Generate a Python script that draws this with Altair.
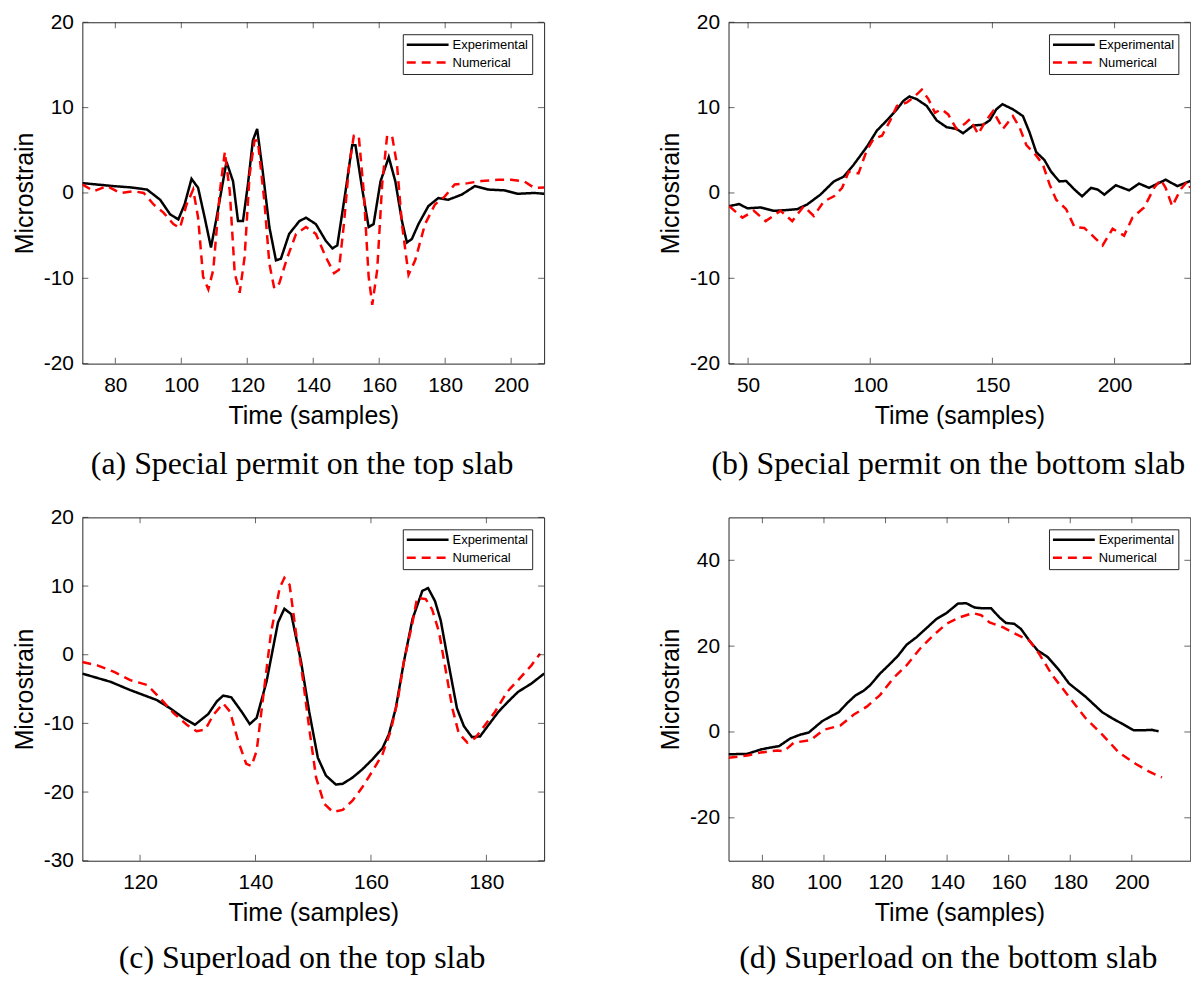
import altair as alt
import pandas as pd

SERIES = ["Experimental", "Numerical"]

# ---------- (a) Special permit on the top slab ----------
a_exp_t = [70, 79.5, 84.6, 89.6, 93.6, 96.6, 99.1, 101, 103.1, 105.1, 107.1, 109, 110.7, 113.7, 115.7,
           117.2, 118.7, 120.2, 121.7, 123, 124.7, 126.7, 128.7, 130.2, 132.7, 135.8, 137.8, 140.8,
           143.8, 145.8, 147.3, 149.8, 151.8, 152.8, 154.8, 156.8, 158.3, 160.4, 162.9, 164.9, 166.9,
           168.4, 169.9, 171.9, 174.9, 177.9, 180.9, 185, 189, 193, 198, 202, 207, 210]
a_exp_v = [1.15, 0.8, 0.65, 0.4, -0.8, -2.5, -3.1, -1.35, 1.65, 0.6, -2.9, -6.4, -2.9, 3.65, 1.35,
           -3.3, -3.3, 1.0, 6.15, 7.5, 2.5, -4.0, -7.9, -7.7, -4.8, -3.3, -2.9, -3.65,
           -5.6, -6.5, -6.15, 0.2, 5.6, 5.6, 0.6, -4.0, -3.65, 1.35, 4.2, 1.35, -3.3,
           -5.8, -5.4, -3.65, -1.55, -0.6, -0.8, -0.2, 0.8, 0.4, 0.3, -0.1, 0.0, -0.1]
a_num_t = [70, 73.5, 77.5, 81.5, 85.6, 88.6, 91.6, 94.6, 97.6, 99.6, 101.6, 103.6, 105.1, 106.6, 108.2,
           109.7, 111.7, 113.2, 114.7, 116.2, 117.7, 119.2, 120.7, 122.2, 123.2, 125.2, 126.7, 128.2,
           129.7, 132.2, 134.8, 137.8, 140.8, 143.8, 146.3, 147.8, 149.3, 150.8, 152.3, 153.8, 155.3,
           156.8, 157.9, 159.4, 160.9, 162.4, 163.9, 165.4, 166.9, 168.9, 170.9, 173.9, 176.9, 179.9,
           182.9, 187, 191, 196, 200, 204, 207, 210]
a_num_v = [1.0, 0.2, 0.8, 0.0, 0.2, 0.0, -1.35, -2.3, -3.65, -4.1, -1.35, 0.4, -2.9, -9.8, -11.3,
           -9.0, 0.2, 4.8, 0.2, -9.4, -11.7, -7.5, 2.1, 6.15, 6.15, -1.0, -8.3, -11.2,
           -10.6, -7.5, -4.8, -4.0, -4.8, -7.5, -9.4, -9.0, -3.65, 2.9, 6.7, 6.7, 0.2,
           -9.8, -13.1, -9.0, 1.0, 6.7, 6.7, 3.3, -3.65, -9.6, -7.9, -3.65, -1.35, -0.4,
           1.0, 1.15, 1.4, 1.55, 1.55, 1.35, 0.6, 0.65]

# ---------- (b) Special permit on the bottom slab ----------
b_exp_t = [42.3, 46.3, 49.7, 55.2, 60.6, 66, 70.1, 74.2, 79.6, 85.1, 89.1, 93.2, 98.6, 102.7, 106.8,
           110.9, 113.6, 116, 119, 123.1, 127.2, 131.3, 135.3, 138, 142.1, 146.2, 148.9, 151.6,
           154.1, 158.4, 162.5, 165.2, 167.9, 171.3, 174, 177.4, 180.2, 183.6, 186.7, 190.4, 193.1,
           195.8, 200.5, 206, 210, 214.1, 220.9, 225.7, 231]
b_exp_v = [-1.55, -1.3, -1.8, -1.7, -2.1, -2.0, -1.9, -1.35, -0.2, 1.35, 1.9, 3.3, 5.4, 7.3, 8.5,
           9.8, 10.8, 11.3, 11.0, 10.2, 8.5, 7.7, 7.5, 7.0, 7.9, 8.0, 8.5, 9.8,
           10.4, 9.8, 9.0, 7.1, 4.8, 3.85, 2.5, 1.35, 1.4, 0.4, -0.4, 0.6, 0.4,
           -0.2, 0.9, 0.3, 1.1, 0.6, 1.55, 0.8, 1.4]
b_num_t = [42.3, 47.7, 52.4, 57.2, 63.3, 68.1, 72.8, 76.9, 81, 85.1, 88.5, 91.2, 95.2, 98.6, 101.4,
           104.8, 108.2, 110.9, 115, 117.7, 121.1, 123.8, 126.5, 129.2, 131.9, 135.3, 138.7, 140.8,
           144.2, 146.9, 150.3, 154.3, 158.4, 161.1, 163.9, 167.9, 170.7, 173.4, 176.1, 180.2, 183.6,
           187.6, 191.7, 195.1, 199.2, 203.9, 207.3, 212.1, 216.2, 218.9, 220.9, 223.6, 227, 229.8, 231]
b_num_v = [-1.55, -2.9, -2.1, -3.3, -2.1, -3.3, -1.55, -2.7, -1.0, -0.4, 0.6, 2.5, 2.3, 5.0, 6.35,
           6.7, 8.5, 10.2, 10.6, 11.2, 12.1, 11.0, 9.4, 9.8, 9.2, 7.5, 8.1, 8.65,
           6.9, 8.3, 9.6, 7.5, 9.0, 7.7, 5.6, 4.4, 3.3, 1.0, -0.8, -1.9, -4.0,
           -4.1, -5.2, -6.15, -4.2, -5.0, -2.9, -1.7, 0.6, 1.55, 0.6, -1.55, 0.4, 1.35, 0.6]

# ---------- (c) Superload on the top slab ----------
c_exp_t = [110, 114.9, 118.3, 122.9, 125.2, 127.5, 129.5, 131.8, 133.3, 134.4, 135.8, 137.6, 139,
           140.2, 141.9, 143.9, 145, 146.2, 147.9, 149.3, 150.8, 152.2, 153.9, 155.1, 156.8, 158.5,
           160.3, 162, 163.1, 164.3, 165.7, 167.2, 168.9, 169.9, 171.1, 172.1, 173.5, 174.9, 176.1,
           177.5, 178.9, 180.4, 182.1, 183.8, 185.5, 187.8, 190]
c_exp_v = [-2.75, -3.95, -5.15, -6.6, -7.8, -9.2, -10.2, -8.65, -6.8, -5.95, -6.2, -8.3, -10.1,
           -9.2, -3.95, 4.7, 6.7, 5.9, -1.05, -8.3, -15.0, -17.6, -18.9, -18.8, -17.9, -16.7,
           -15.2, -13.6, -11.6, -7.8, -1.05, 5.2, 9.3, 9.7, 7.8, 4.95, -1.55, -7.8, -10.4,
           -12.0, -11.9, -10.2, -8.3, -6.8, -5.4, -4.2, -2.75]
c_num_t = [110, 112.6, 115.5, 118.3, 121.2, 123.5, 125.8, 128.1, 129.8, 131.3, 132.7, 134.4, 135.6,
           137, 138.4, 139.3, 140.2, 141.3, 142.7, 144.2, 145, 145.9, 147, 148.2, 149.3, 150.5,
           151.9, 153.4, 155.1, 156.8, 158.5, 160.3, 162, 163.4, 164.6, 165.7, 167.2, 168, 169.5,
           170.6, 171.8, 172.9, 174.1, 175.2, 176.7, 178.1, 179.8, 181.5, 183.6, 185.5, 187.8, 189.3]
c_num_v = [-1.05, -1.55, -2.5, -3.7, -4.4, -6.35, -8.5, -10.2, -11.15, -10.9, -8.75, -7.1, -8.3,
           -12.6, -15.9, -16.2, -14.0, -6.35, 3.3, 9.75, 11.2, 10.2, 3.3, -3.5, -10.7, -17.9,
           -21.7, -22.9, -22.6, -21.25, -19.3, -16.9, -14.5, -11.15, -6.8, -1.05, 4.7, 8.3, 8.1,
           6.6, 3.3, -2.0, -7.8, -11.4, -12.8, -12.1, -10.2, -8.3, -5.4, -3.7, -1.55, 0.15]

# ---------- (d) Superload on the bottom slab ----------
d_exp_t = [69, 75.1, 79.4, 82.1, 85.4, 89.1, 92.4, 95.1, 99.4, 102.1, 104.8, 107.5, 110.2, 112.9,
           115, 118.2, 121.5, 124.1, 126.8, 130.1, 133.3, 136.5, 139.8, 143.5, 146.2, 148.9, 151.6,
           154.3, 157, 159.1, 161.8, 164, 166.7, 169.4, 172.6, 176.4, 179.6, 185, 190.4, 193.6,
           197.4, 200.6, 203.9, 206.5, 208.7]
d_exp_v = [-5.2, -5.1, -4.1, -3.7, -3.3, -1.5, -0.6, -0.1, 2.5, 3.6, 4.6, 6.7, 8.5, 9.6,
           10.9, 13.6, 15.9, 17.8, 20.3, 22.1, 24.2, 26.3, 27.7, 29.9, 30.0, 29.0, 28.8,
           28.8, 26.7, 25.4, 25.2, 24.0, 21.3, 19.0, 17.5, 14.4, 11.3, 8.2, 4.6, 3.2,
           1.7, 0.4, 0.4, 0.5, 0.15]
d_num_t = [69, 75.1, 79.4, 84.8, 87, 90.2, 95.6, 99.9, 105.3, 109.6, 113.9, 118.2, 122.5, 126.8,
           131.2, 135.5, 139.8, 144.1, 148.4, 151.1, 153.8, 158.1, 162.4, 166.7, 169.9, 174.2, 179.6,
           185, 190.4, 195.8, 201.2, 205.5, 209.8]
d_num_v = [-6.0, -5.5, -4.8, -4.3, -4.5, -2.5, -1.9, 0.5, 1.5, 4.0, 5.9, 8.6, 12.5, 15.5,
           19.4, 22.5, 25.2, 26.7, 27.7, 27.2, 25.5, 24.4, 22.8, 21.3, 18.2, 13.2, 8.2,
           3.2, -0.6, -4.8, -7.4, -9.2, -10.6]

# axis domains and tick values
a_xdom, a_ydom, a_xt, a_yt = [70, 210], [-20, 20], [80, 100, 120, 140, 160, 180, 200], [-20, -10, 0, 10, 20]
b_xdom, b_ydom, b_xt, b_yt = [42, 231], [-20, 20], [50, 100, 150, 200], [-20, -10, 0, 10, 20]
c_xdom, c_ydom, c_xt, c_yt = [110, 190], [-30, 20], [120, 140, 160, 180], [-30, -20, -10, 0, 10, 20]
d_xdom, d_ydom, d_xt, d_yt = [69, 219], [-30, 50], [80, 100, 120, 140, 160, 180, 200], [-20, 0, 20, 40]

captions = ["(a) Special permit on the top slab",
            "(b) Special permit on the bottom slab",
            "(c) Superload on the top slab",
            "(d) Superload on the bottom slab"]

SANS = "Liberation Sans"
SERIF = "Liberation Serif"
AX = "#262626"
W = 464


def panel(et, ev, nt, nv, xdom, ydom, xt, yt, caption, h, cap_offset):
    df = pd.DataFrame({
        "t": list(et) + list(nt),
        "v": list(ev) + list(nv),
        "series": [SERIES[0]] * len(et) + [SERIES[1]] * len(nt),
    })
    xaxis = alt.Axis(values=xt, title="Time (samples)", grid=False, domain=False, ticks=False,
                     tickSize=0, labelPadding=11, titlePadding=8, labelExpr="datum.value + ''")
    yaxis = alt.Axis(values=yt, title="Microstrain", grid=False, domain=False, ticks=False,
                     tickSize=0, labelPadding=9, titlePadding=5.7, labelExpr="datum.value + ''")
    xs = alt.Scale(domain=xdom, nice=False, zero=False)
    ys = alt.Scale(domain=ydom, nice=False, zero=False)

    def X():
        return alt.X("t:Q", scale=xs, axis=xaxis)

    def Y():
        return alt.Y("v:Q", scale=ys, axis=yaxis)

    lines = alt.Chart(df).mark_line(strokeWidth=2.5, clip=True).encode(
        x=X(), y=Y(),
        color=alt.Color("series:N", scale=alt.Scale(domain=SERIES, range=["#000000", "#ff0000"]),
                        legend=alt.Legend(title=None)),
        strokeDash=alt.StrokeDash("series:N", scale=alt.Scale(domain=SERIES, range=[[1, 0], [9, 6]]),
                                  legend=alt.Legend(title=None)),
    )

    left = pd.DataFrame({"t": [xdom[0]] * len(yt), "v": yt})
    right = pd.DataFrame({"t": [xdom[1]] * len(yt), "v": yt})
    bottom = pd.DataFrame({"t": xt, "v": [ydom[0]] * len(xt)})
    top = pd.DataFrame({"t": xt, "v": [ydom[1]] * len(xt)})
    tk = dict(color=AX, thickness=1, size=6)
    t1 = alt.Chart(left).mark_tick(orient="horizontal", xOffset=3, **tk).encode(x=X(), y=Y())
    t2 = alt.Chart(right).mark_tick(orient="horizontal", xOffset=-3, **tk).encode(x=X(), y=Y())
    t3 = alt.Chart(bottom).mark_tick(orient="vertical", yOffset=-3, **tk).encode(x=X(), y=Y())
    t4 = alt.Chart(top).mark_tick(orient="vertical", yOffset=3, **tk).encode(x=X(), y=Y())

    return alt.layer(lines, t1, t2, t3, t4).properties(
        width=W, height=h,
        title=alt.TitleParams(caption, orient="bottom", anchor="middle", font=SERIF, fontSize=32,
                              fontWeight="normal", color="#000000", dx=-11.2, offset=cap_offset),
    )


pa = panel(a_exp_t, a_exp_v, a_num_t, a_num_v, a_xdom, a_ydom, a_xt, a_yt, captions[0], 343, 21)
pb = panel(b_exp_t, b_exp_v, b_num_t, b_num_v, b_xdom, b_ydom, b_xt, b_yt, captions[1], 343, 21)
pc = panel(c_exp_t, c_exp_v, c_num_t, c_num_v, c_xdom, c_ydom, c_xt, c_yt, captions[2], 345, 17.5)
pd_ = panel(d_exp_t, d_exp_v, d_num_t, d_num_v, d_xdom, d_ydom, d_xt, d_yt, captions[3], 345, 17.5)

ind = dict(color="independent", strokeDash="independent")
row1 = alt.hconcat(pa, pb, spacing=185.3, bounds="flush").resolve_scale(**ind).resolve_legend(**ind)
row2 = alt.hconcat(pc, pd_, spacing=185.3, bounds="flush").resolve_scale(**ind).resolve_legend(**ind)

# with flush bounds the nested rows count as zero height, so the spacing is the row-top to row-top distance
chart = alt.vconcat(row1, row2, spacing=497.5, bounds="flush").resolve_scale(**ind).resolve_legend(**ind).properties(
    padding={"left": 3.7, "top": 0, "right": 0, "bottom": 0}
).configure_view(
    stroke=AX, strokeWidth=1
).configure_axis(
    labelFont=SANS, labelFontSize=21, labelColor="#000000",
    titleFont=SANS, titleFontSize=25, titleFontWeight="normal", titleColor="#000000",
).configure_legend(
    orient="top-right", offset=12, padding=4, strokeColor=AX, fillColor="#ffffff",
    labelFont=SANS, labelFontSize=13, labelColor="#000000",
    symbolType="M-4,0L4,0", symbolSize=110.25, symbolStrokeWidth=2.5,
    symbolOffset=14.5, labelOffset=18.5, rowPadding=4,
).configure_title(font=SERIF)

chart.save("out.html", embed_options={"renderer": "svg", "actions": False})
